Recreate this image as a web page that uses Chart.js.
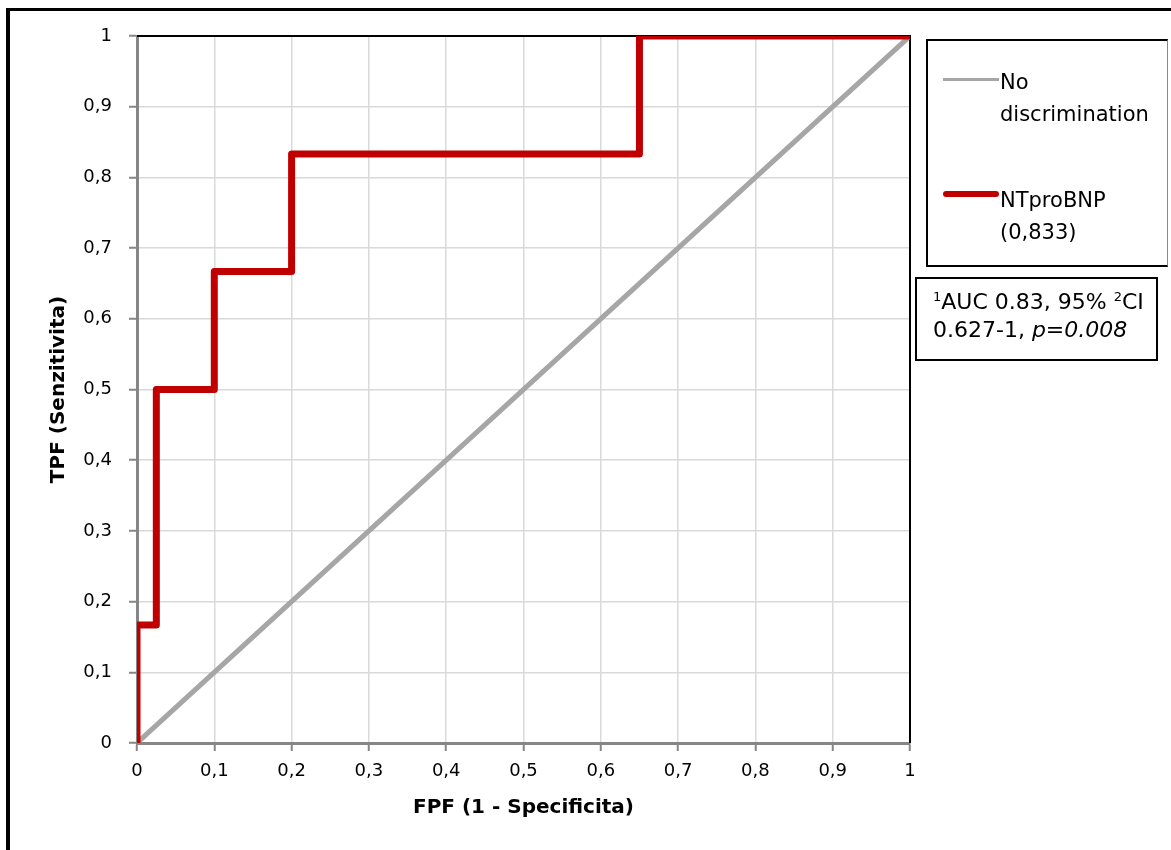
<!DOCTYPE html>
<html>
<head>
<meta charset="utf-8">
<script src="https://cdn.jsdelivr.net/npm/chart.js@4/dist/chart.umd.min.js"></script>
<style>
  html, body { margin: 0; padding: 0; background: #fff; }
  body { width: 1171px; height: 850px; position: relative; overflow: hidden; font-family: "DejaVu Sans", sans-serif; color: #000; }
  .frame { position: absolute; left: 6px; top: 8px; width: 1200px; height: 900px; border-left: 4px solid #000; border-top: 3px solid #000; }
  .chart-wrap { position: absolute; left: 0; top: 0; width: 1171px; height: 850px; }
  .legend { position: absolute; left: 926px; top: 39px; width: 239px; height: 224px; border: 2px solid #000; border-right-color: #888; border-right-width: 1px; }
  .legend-line { position: absolute; height: 0; }
  .legend-text { position: absolute; font-size: 21px; line-height: 32px; white-space: nowrap; }
  .note { position: absolute; left: 915px; top: 277px; width: 239px; height: 80px; border: 2px solid #000; }
  .note-text { position: absolute; left: 16px; top: 9px; font-size: 22px; line-height: 28px; white-space: nowrap; }
  .note-text .sup { font-size: 13px; vertical-align: 8px; line-height: 0; }
</style>
</head>
<body>
<div class="frame"></div>
<div class="chart-wrap"><canvas id="rocChart" width="1171" height="850"></canvas></div>
<div class="legend" id="legend"></div>
<div class="note"><div class="note-text"><span class="sup">1</span>AUC 0.83, 95% <span class="sup">2</span>CI<br>0.627-1, <i>p=0.008</i></div></div>

<script>
// ROC curve of NTproBNP (false positive fraction vs true positive fraction)
const rocFpf = [0, 0, 0.025, 0.025, 0.1, 0.1, 0.2, 0.2, 0.65, 0.65, 1];
const rocTpf = [0, 0.167, 0.167, 0.5, 0.5, 0.667, 0.667, 0.833, 0.833, 1, 1];

// no discrimination diagonal
const diagFpf = [0, 1];
const diagTpf = [0, 1];

const axisTicks = ['0', '0,1', '0,2', '0,3', '0,4', '0,5', '0,6', '0,7', '0,8', '0,9', '1'];

const seriesLabels = [['No', 'discrimination'], ['NTproBNP', '(0,833)']];
const seriesColors = ['#a6a6a6', '#c00000'];
const seriesWidths = [5, 7];

const toPoints = (xs, ys) => xs.map((x, i) => ({ x: x, y: ys[i] }));

// black plot frame on top and right side (Excel plot area border)
const plotFrame = {
  id: 'plotFrame',
  beforeDatasetsDraw(chart) {
    const { ctx, chartArea } = chart;
    ctx.save();
    ctx.strokeStyle = '#000';
    ctx.lineWidth = 2;
    ctx.beginPath();
    ctx.moveTo(chartArea.left, chartArea.top);
    ctx.lineTo(chartArea.right, chartArea.top);
    ctx.lineTo(chartArea.right, chartArea.bottom);
    ctx.stroke();
    ctx.restore();
  }
};

const tickFont = { family: 'DejaVu Sans', size: 18 };
const titleFont = { family: 'DejaVu Sans', size: 20, weight: 'bold' };

new Chart(document.getElementById('rocChart'), {
  type: 'scatter',
  data: {
    datasets: [
      {
        label: 'NTproBNP (0,833)',
        data: toPoints(rocFpf, rocTpf),
        showLine: true,
        borderColor: seriesColors[1],
        borderWidth: seriesWidths[1],
        borderJoinStyle: 'round',
        borderCapStyle: 'round',
        pointRadius: 0,
        tension: 0
      },
      {
        label: 'No discrimination',
        data: toPoints(diagFpf, diagTpf),
        showLine: true,
        borderColor: seriesColors[0],
        borderWidth: seriesWidths[0],
        borderCapStyle: 'round',
        pointRadius: 0
      }
    ]
  },
  options: {
    responsive: false,
    animation: false,
    events: [],
    layout: { padding: { left: 0, top: 36, right: 261, bottom: 0 } },
    plugins: {
      legend: { display: false },
      tooltip: { enabled: false }
    },
    scales: {
      x: {
        type: 'linear',
        min: 0,
        max: 1,
        afterFit(scale) { scale.height = 107; },
        border: { color: '#868686', width: 3 },
        grid: { color: '#d9d9d9', lineWidth: 1.5, tickColor: '#868686', tickLength: 8, tickWidth: 2 },
        ticks: {
          stepSize: 0.1,
          padding: 10,
          color: '#000',
          font: tickFont,
          maxRotation: 0,
          callback: (v, i) => axisTicks[i]
        },
        title: { display: true, text: 'FPF (1 - Specificita)', color: '#000', font: titleFont, padding: { top: 0, bottom: 30 } }
      },
      y: {
        type: 'linear',
        min: 0,
        max: 1,
        afterFit(scale) { scale.width = 137; },
        border: { color: '#868686', width: 3 },
        grid: { color: '#d9d9d9', lineWidth: 1.5, tickColor: '#868686', tickLength: 8, tickWidth: 2 },
        ticks: {
          stepSize: 0.1,
          padding: 17,
          color: '#000',
          font: tickFont,
          callback: (v, i) => axisTicks[i]
        },
        title: { display: true, text: 'TPF (Senzitivita)', color: '#000', font: titleFont, padding: { top: 47, bottom: 0 } }
      }
    }
  },
  plugins: [plotFrame]
});

// legend, built from the series arrays
const legendBox = document.getElementById('legend');
const lineTops = [39, 152];   // y of each swatch inside the box
const textTops = [25, 143];
seriesLabels.forEach((lines, i) => {
  const sw = document.createElement('div');
  sw.className = 'legend-line';
  sw.style.left = '15px';
  sw.style.width = '56px';
  sw.style.top = (lineTops[i] - seriesWidths[i] / 2 + (i ? 1 : 0)) + 'px';
  sw.style.borderTop = (i ? 6 : 3) + 'px solid ' + seriesColors[i];
  if (i) sw.style.borderRadius = '3px';
  legendBox.appendChild(sw);

  const tx = document.createElement('div');
  tx.className = 'legend-text';
  tx.style.left = '72px';
  tx.style.top = textTops[i] + 'px';
  tx.innerHTML = lines.join('<br>');
  legendBox.appendChild(tx);
});
</script>
</body>
</html>
